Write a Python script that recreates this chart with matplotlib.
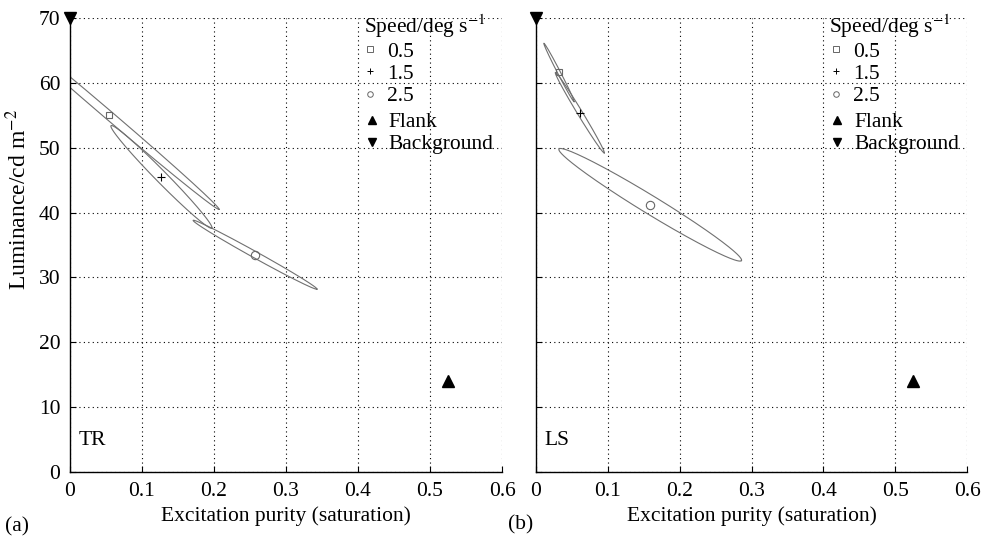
import numpy as np
import matplotlib
matplotlib.use('Agg')
import matplotlib.pyplot as plt
from matplotlib.lines import Line2D

plt.rcParams['font.family'] = ['Liberation Serif', 'DejaVu Serif']
plt.rcParams['mathtext.fontset'] = 'stix'

speeds = ['0.5', '1.5', '2.5']

# TR panel: ellipse centres, lower-right tips of the major axis, minor/major ratio
tr_cx = [0.054, 0.127, 0.257]
tr_cy = [55.0, 45.5, 33.5]
tr_tipx = [0.207, 0.197, 0.343]
tr_tipy = [40.5, 37.6, 28.2]
tr_ratio = [0.03, 0.080, 0.045]

# LS panel
ls_cx = [0.032, 0.061, 0.159]
ls_cy = [61.6, 55.4, 41.2]
ls_tipx = [0.053, 0.095, 0.286]
ls_tipy = [57.1, 49.2, 32.6]
ls_ratio = [0.045, 0.053, 0.085]

flank = (0.525, 14.1)
background = (0.0, 70.0)

markers = ['s', '+', 'o']
mfc = ['none', 'k', 'none']
mec = ['#666666', 'k', '#666666']
msize = [5, 6, 6]
ell_color = '#707070'
fs = 15.5

fig = plt.figure(figsize=(9.9, 5.4), dpi=100)
ax1 = fig.add_axes([0.0707, 0.1259, 0.4364, 0.8408])
ax2 = fig.add_axes([0.5414, 0.1259, 0.4354, 0.8408])


def draw_ellipse(ax, cx, cy, tx, ty, ratio):
    # build in pixel space so the minor axis is perpendicular on screen
    c = ax.transData.transform((cx, cy))
    t = ax.transData.transform((tx, ty))
    u = t - c
    v = np.array([-u[1], u[0]]) * ratio
    th = np.linspace(0, 2 * np.pi, 300)
    pts = c + np.outer(np.cos(th), u) + np.outer(np.sin(th), v)
    d = ax.transData.inverted().transform(pts)
    ax.plot(d[:, 0], d[:, 1], color=ell_color, lw=0.8)


leg_kw = dict(frameon=False, fontsize=fs, title_fontsize=fs, handlelength=0.6,
              handletextpad=0.5, labelspacing=0.1, borderaxespad=0.0,
              borderpad=0.0, loc='upper left')

for ax, cx, cy, tx, ty, rt, name in [
        (ax1, tr_cx, tr_cy, tr_tipx, tr_tipy, tr_ratio, 'TR'),
        (ax2, ls_cx, ls_cy, ls_tipx, ls_tipy, ls_ratio, 'LS')]:
    ax.set_xlim(0, 0.6)
    ax.set_ylim(0, 70)
    ax.set_xticks(np.arange(0, 0.61, 0.1))
    ax.set_xticklabels(['0', '0.1', '0.2', '0.3', '0.4', '0.5', '0.6'])
    ax.set_yticks(np.arange(0, 71, 10))
    for s in ['top', 'right']:
        ax.spines[s].set_visible(False)
    for s in ['left', 'bottom']:
        ax.spines[s].set_linewidth(1.0)
    ax.grid(True, color='k', linestyle=(0, (1, 3)), linewidth=0.8)
    ax.tick_params(direction='in', length=4, labelsize=fs, pad=7)
    ax.set_xlabel('Excitation purity (saturation)', fontsize=fs, labelpad=4)

    for i in range(3):
        draw_ellipse(ax, cx[i], cy[i], tx[i], ty[i], rt[i])
        ax.plot(cx[i], cy[i], marker=markers[i], mfc=mfc[i], mec=mec[i],
                ms=msize[i], ls='none', mew=0.8)
    ax.plot(*flank, marker='^', color='k', ms=8, ls='none')
    ax.plot(*background, marker='v', color='k', ms=8, ls='none', clip_on=False)
    ax.text(0.02, 0.07, name, transform=ax.transAxes, fontsize=fs, va='center')

    h_speed = [Line2D([], [], marker=markers[i], mfc=mfc[i], mec=mec[i], ms=4,
                      ls='none', mew=0.7) for i in range(3)]
    leg1 = ax.legend(h_speed, speeds, title='Speed/deg s$^{-1}$',
                     bbox_to_anchor=(0.68, 1.013), **leg_kw)
    leg1._legend_box.align = 'left'
    ax.add_artist(leg1)
    h_ref = [Line2D([], [], marker='^', color='k', ms=6, ls='none'),
             Line2D([], [], marker='v', color='k', ms=6, ls='none')]
    ax.legend(h_ref, ['Flank', 'Background'],
              bbox_to_anchor=(0.68 + 0.003, 0.793), **leg_kw)

ax2.set_yticklabels([])
ax1.set_ylabel('Luminance/cd m$^{-2}$', fontsize=17)
ax1.yaxis.set_label_coords(-0.09, 0.6)

fig.text(0.005, 0.015, '(a)', fontsize=fs)
fig.text(0.513, 0.02, '(b)', fontsize=fs)

fig.savefig('out.png', dpi=100)
